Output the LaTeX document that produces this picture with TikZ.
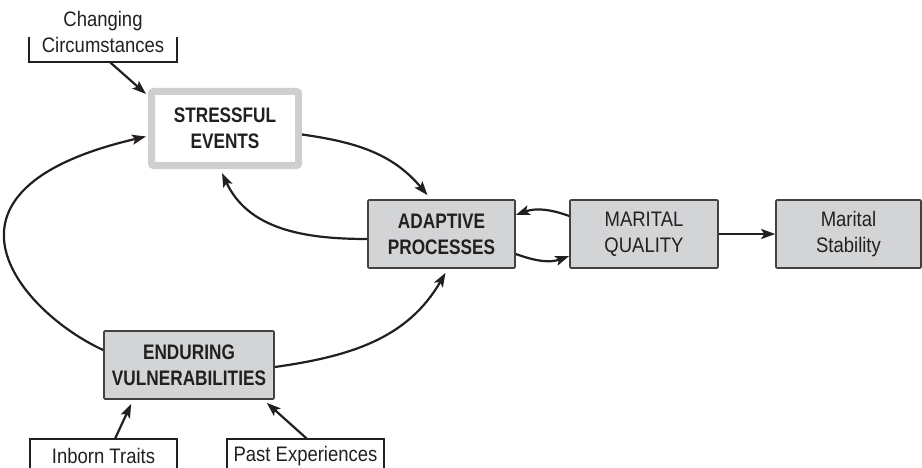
\documentclass[tikz,border=0pt]{standalone}
\usepackage{fontspec}
\setmainfont{Liberation Sans}[FakeStretch=0.88]
\newfontfamily\headfont{Liberation Sans}[FakeStretch=0.82]
\usetikzlibrary{arrows.meta, positioning, calc}
\definecolor{boxgray}{RGB}{211,212,214}
\definecolor{framegray}{RGB}{206,207,209}
\definecolor{inkdark}{RGB}{35,31,32}

\begin{document}
\begin{tikzpicture}[x=1pt, y=1pt, inkdark,
    box/.style={rectangle, draw=inkdark!85, line width=1.6pt, rounded corners=1pt, fill=boxgray, minimum height=68pt, inner sep=0pt, align=center, font=\fontsize{21}{26}\selectfont},
    headbox/.style={box, font=\headfont\bfseries\fontsize{21}{26}\selectfont},
    source/.style={rectangle, inner sep=0pt, align=center, font=\fontsize{21}{26}\selectfont},
    bracket/.style={line width=2.3pt},
    arr/.style={-{Stealth[length=14pt, width=10pt, inset=3pt]}, line width=2.2pt}]
    \useasboundingbox (0,0) rectangle (922,467);
    % main boxes
    \node[headbox, draw=framegray, line width=7pt, fill=white, rounded corners=2pt, minimum width=147pt, minimum height=74pt] (stress) at (225,338.5) {STRESSFUL\\EVENTS};
    \node[headbox, minimum width=147pt] (adapt) at (441.5,233) {ADAPTIVE\\PROCESSES};
    \node[box, minimum width=148pt] (quality) at (644,233) {MARITAL\\QUALITY};
    \node[box, minimum width=145pt] (stability) at (848.5,233) {Marital\\Stability};
    \node[headbox, minimum width=170pt] (endur) at (189,102) {ENDURING\\VULNERABILITIES};
    % outside sources
    \node[source, minimum width=148pt, minimum height=61pt] (circ) at (103,435.5) {Changing\\Circumstances};
    \node[source, minimum width=147pt, minimum height=34pt] (inborn) at (103.5,11) {Inborn Traits};
    \node[source, minimum width=157pt, minimum height=34pt] (past) at (305.5,11) {Past Experiences};
    \draw[bracket] ([yshift=25pt]circ.south west) -- (circ.south west) -- (circ.south east) -- ([yshift=25pt]circ.south east);
    \draw[bracket] (inborn.south west) -- (inborn.north west) -- (inborn.north east) -- (inborn.south east);
    \draw[bracket] (past.south west) -- (past.north west) -- (past.north east) -- (past.south east);
    % connectors
    \draw[arr] ([xshift=7pt]circ.south) -- ([xshift=-2pt,yshift=-6pt]stress.north west);
    \draw[arr] ([yshift=-6pt]stress.east) to[out=-8, in=130] ([xshift=-14pt,yshift=4pt]adapt.north);
    \draw[arr] ([yshift=-5pt]adapt.west) to[out=180, in=-65] ([xshift=-3pt,yshift=-4pt]stress.south);
    \draw[arr] ([yshift=18pt]quality.west) to[out=160, in=20] ([yshift=19pt]adapt.east);
    \draw[arr] ([yshift=-20pt]adapt.east) to[out=-20, in=200] ([yshift=-22pt]quality.west);
    \draw[arr] (quality) -- (stability);
    \draw[arr] ([yshift=15pt]endur.west) .. controls +(-81,37) and +(-233,-54) .. ([xshift=-2pt,yshift=-8pt]stress.west);
    \draw[arr] ([yshift=-2pt]endur.east) to[out=8, in=-120] ([xshift=4pt,yshift=-4pt]adapt.south);
    \draw[arr] ([xshift=11.5pt]inborn.north) -- ([xshift=28pt,yshift=-4pt]endur.south west);
    \draw[arr] ([xshift=1.5pt]past.north) -- ([xshift=-8pt,yshift=-3pt]endur.south east);
\end{tikzpicture}
\end{document}
